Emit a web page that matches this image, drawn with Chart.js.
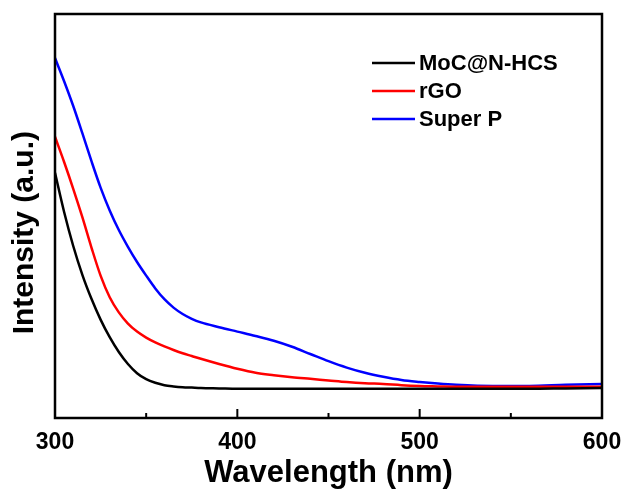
<!DOCTYPE html>
<html>
<head>
<meta charset="utf-8">
<script src="https://cdn.jsdelivr.net/npm/chart.js@4/dist/chart.umd.min.js"></script>
<style>
  html, body { margin: 0; padding: 0; background: #fff; }
  #wrap { width: 624px; height: 490px; }
</style>
</head>
<body>
<div id="wrap"><canvas id="uvChart" width="624" height="490"></canvas></div>
<script>
// wavelength samples (nm)
const wavelengths = [300, 305, 310, 315, 320, 325, 330, 335, 340, 345, 350, 355, 360, 365, 370, 375, 380,
    390, 400, 410, 420, 430, 440, 450, 460, 470, 480, 490, 500, 510, 520, 540, 560, 580, 600];

// intensities (a.u.)
const mocValues = [61.3, 51.5, 43.0, 35.8, 29.8, 24.6, 20.2, 16.5, 13.5, 11.2, 9.7, 8.8, 8.2, 7.9, 7.7, 7.6, 7.5,
    7.4, 7.3, 7.3, 7.3, 7.3, 7.3, 7.3, 7.3, 7.3, 7.3, 7.3, 7.3, 7.3, 7.3, 7.3, 7.3, 7.4, 7.5];
const rgoValues = [70.3, 64.0, 57.3, 50.2, 42.6, 35.6, 30.2, 26.4, 23.6, 21.6, 20.1, 18.9, 17.9, 17.0, 16.2, 15.5, 14.8,
    13.5, 12.3, 11.3, 10.7, 10.2, 9.8, 9.4, 9.0, 8.7, 8.5, 8.2, 8.0, 7.9, 7.8, 7.8, 7.8, 7.8, 7.8];
const superPValues = [90.0, 84.2, 78.0, 71.2, 64.2, 57.6, 51.9, 47.0, 42.8, 39.0, 35.6, 32.4, 29.7, 27.6, 26.0, 24.8, 23.9,
    22.7, 21.6, 20.5, 19.3, 17.8, 16.0, 14.2, 12.6, 11.3, 10.3, 9.5, 9.0, 8.6, 8.3, 8.0, 8.0, 8.3, 8.5];

const seriesNames = ['MoC@N-HCS', 'rGO', 'Super P'];
const seriesColors = ['#000000', '#ff0000', '#0000ff'];

const xMajorTicks = [300, 400, 500, 600];
const xMinorTicks = [350, 450, 550];

const FONT = "'Liberation Sans', Arial, Helvetica, sans-serif";

function toPoints(values) {
    return wavelengths.map((w, i) => ({ x: w, y: values[i] }));
}

// frame + inward tick marks
const framePlugin = {
    id: 'frame',
    afterDatasetsDraw(chart) {
        const ctx = chart.ctx;
        const area = chart.chartArea;
        const xScale = chart.scales.x;
        ctx.save();
        ctx.strokeStyle = '#000';
        ctx.lineWidth = 2.5;
        ctx.strokeRect(area.left, area.top, area.right - area.left, area.bottom - area.top);
        ctx.lineWidth = 2;
        xMajorTicks.forEach(v => {
            const px = xScale.getPixelForValue(v);
            ctx.beginPath();
            ctx.moveTo(px, area.bottom);
            ctx.lineTo(px, area.bottom - 9);
            ctx.stroke();
        });
        xMinorTicks.forEach(v => {
            const px = xScale.getPixelForValue(v);
            ctx.beginPath();
            ctx.moveTo(px, area.bottom);
            ctx.lineTo(px, area.bottom - 5);
            ctx.stroke();
        });
        ctx.restore();
    }
};

// legend drawn inside the plot, top right
const insideLegend = {
    id: 'insideLegend',
    afterDraw(chart) {
        const ctx = chart.ctx;
        ctx.save();
        ctx.font = 'bold 22px ' + FONT;
        ctx.textBaseline = 'middle';
        ctx.textAlign = 'left';
        chart.data.datasets.forEach((ds, i) => {
            const y = 63 + i * 28;
            ctx.strokeStyle = ds.borderColor;
            ctx.lineWidth = 2.5;
            ctx.beginPath();
            ctx.moveTo(372, y);
            ctx.lineTo(415, y);
            ctx.stroke();
            ctx.fillStyle = '#000';
            ctx.fillText(ds.label, 419, y + 1);
        });
        ctx.restore();
    }
};

const ctx = document.getElementById('uvChart').getContext('2d');
const chart = new Chart(ctx, {
    type: 'line',
    data: {
        datasets: [mocValues, rgoValues, superPValues].map((vals, i) => ({
            label: seriesNames[i],
            data: toPoints(vals),
            borderColor: seriesColors[i],
            backgroundColor: seriesColors[i],
            borderWidth: 2.5,
            pointRadius: 0,
            cubicInterpolationMode: 'monotone',
            fill: false
        }))
    },
    options: {
        responsive: false,
        animation: false,
        events: [],
        layout: { padding: { top: 14, right: 22, left: 0, bottom: 0 } },
        plugins: {
            legend: { display: false },
            tooltip: { enabled: false }
        },
        scales: {
            x: {
                type: 'linear',
                min: 300,
                max: 600,
                grid: { display: false, drawTicks: false },
                border: { display: false },
                ticks: {
                    stepSize: 100,
                    padding: 11,
                    color: '#000',
                    font: { family: FONT, size: 23, weight: 'bold' }
                },
                title: {
                    display: true,
                    text: 'Wavelength (nm)',
                    color: '#000',
                    font: { family: FONT, size: 31, weight: 'bold', lineHeight: 1 },
                    padding: { top: 0, bottom: 1 }
                },
                afterFit(scale) {
                    scale.height = 72;
                    // let the end labels hang past the plot edges
                    scale.paddingLeft = 0;
                    scale.paddingRight = 0;
                }
            },
            y: {
                min: 0,
                max: 101,
                grid: { display: false, drawTicks: false },
                border: { display: false },
                ticks: { display: false },
                title: {
                    display: true,
                    // trailing spaces push the rotated label a little lower, as in the original
                    text: 'Intensity (a.u.)\u00A0\u00A0\u00A0\u00A0',
                    color: '#000',
                    font: { family: FONT, size: 30, weight: 'bold', lineHeight: 1 },
                    padding: { top: 10, bottom: 0 }
                },
                afterFit(scale) { scale.width = 55; }
            }
        }
    },
    plugins: [framePlugin, insideLegend]
});
</script>
</body>
</html>
